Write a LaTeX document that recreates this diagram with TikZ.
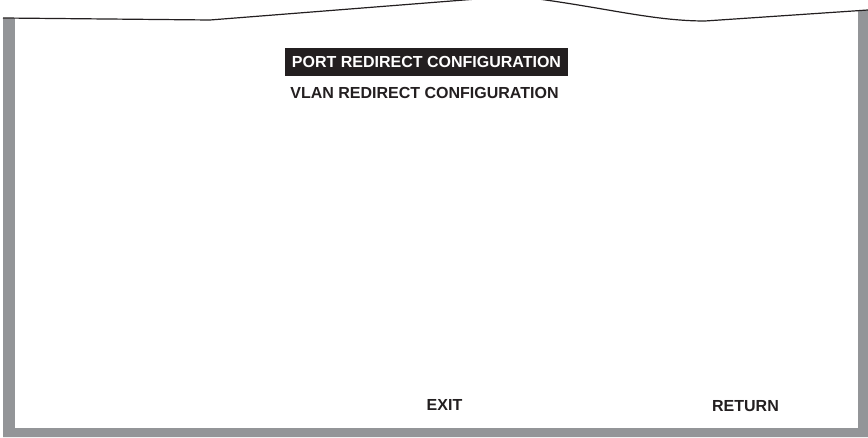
\documentclass[tikz,border=0pt]{standalone}
\usepackage{fontspec}
\setmainfont{Liberation Sans}
\definecolor{framegray}{HTML}{939598}
\definecolor{inkblack}{HTML}{231F20}
\tikzset{
  menutext/.style={font=\bfseries\fontsize{16}{18}\selectfont, text=inkblack, inner sep=0pt},
  selected/.style={menutext, fill=inkblack, text=white, minimum width=283pt, minimum height=28pt},
}
\begin{document}
\begin{tikzpicture}[x=1pt,y=-1pt]
  \useasboundingbox (0,0) rectangle (868,438);
  % torn top edge of the screen
  \def\tornedge{(3,18) -- (210,20) -- (515,-4) .. controls (600,6) and (650,21) .. (705,21) -- (868,10)}
  % grey frame: left, right and bottom bars
  \begin{scope}
    \clip (0,0) rectangle (868,438);
    \fill[framegray] \tornedge -- (868,437) -- (3,437) -- cycle;
    \fill[white] (15,0) rectangle (858,428);
    \fill[white] (0,-10) -- \tornedge -- (868,-10) -- cycle;
    \draw[inkblack, line width=1.2pt, line join=round] \tornedge;
  \end{scope}
  % menu entries
  \node[selected] (port) at (426.5,62) {PORT REDIRECT CONFIGURATION};
  \node[menutext] (vlan) at (424.5,93) {VLAN REDIRECT CONFIGURATION};
  \node[menutext] (exit) at (444.5,404.5) {EXIT};
  \node[menutext] (return) at (745.5,406) {RETURN};
\end{tikzpicture}
\end{document}
